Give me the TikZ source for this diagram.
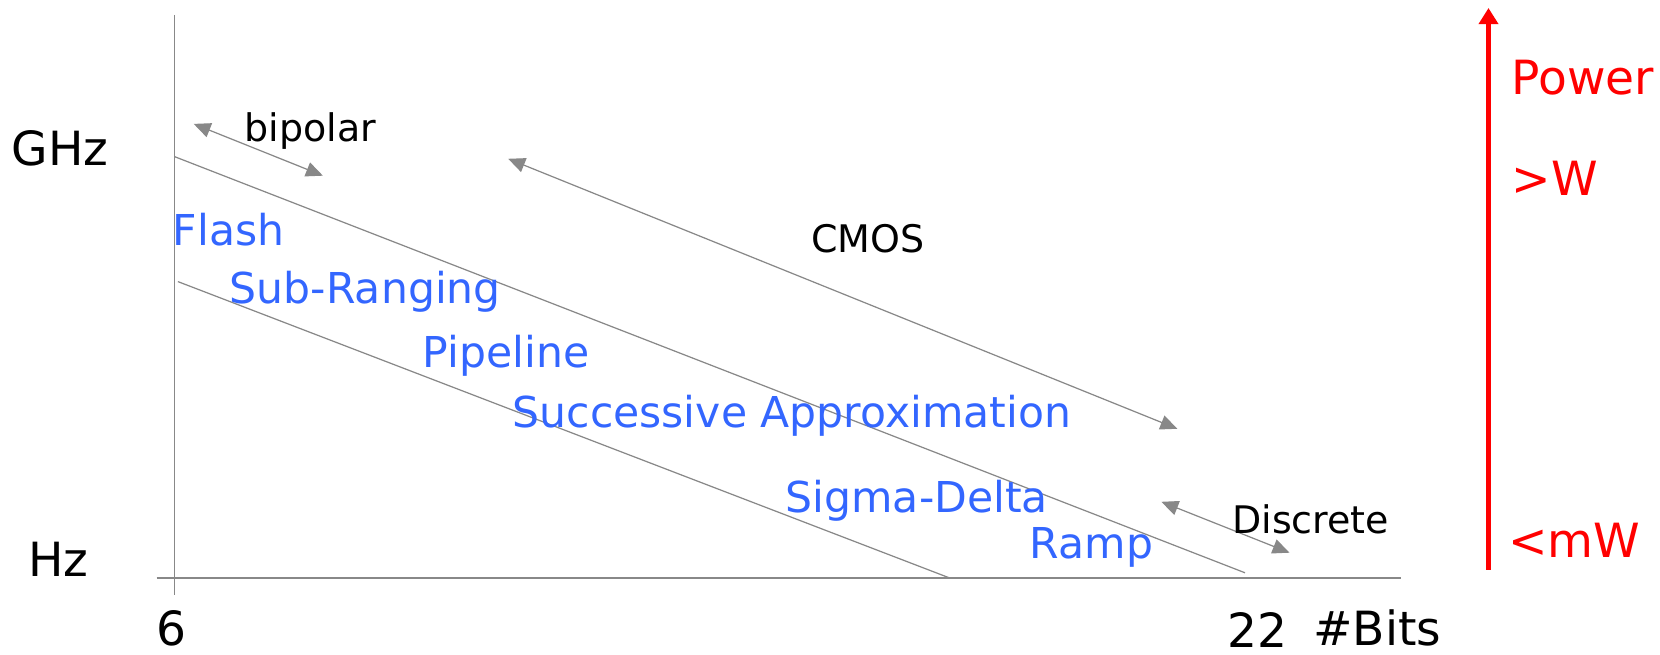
\documentclass[tikz,border=0pt]{standalone}
\usepackage{fontspec}
\setmainfont{DejaVu Sans}
\usetikzlibrary{arrows.meta}
\definecolor{adcblue}{HTML}{3366FF}
\definecolor{axisgray}{HTML}{888888}

\begin{document}
\begin{tikzpicture}[x=0.01cm, y=-0.01cm,
    axis/.style={draw=axisgray, line width=0.35pt},
    span/.style={draw=axisgray, line width=0.35pt, {Triangle[length=4.8pt,width=4.2pt]}-{Triangle[length=4.8pt,width=4.2pt]}},
    kind/.style={text=adcblue, font=\fontsize{12.1}{14}\selectfont, inner sep=0pt},
    tech/.style={font=\fontsize{10.8}{13}\selectfont, inner sep=0pt},
    big/.style={font=\fontsize{13.4}{15}\selectfont, inner sep=0pt}]
    \useasboundingbox (0,0) rectangle (1660,655);

    % Axes
    \coordinate (ytop) at (174.7,14.8);
    \coordinate (ybot) at (174.7,595);
    \coordinate (xleft) at (156.7,578);
    \coordinate (xright) at (1400.7,578);
    \draw[axis] (ytop) -- (ybot);
    \draw[axis] (xleft) -- (xright);

    % Region borders
    \coordinate (upA) at (174.7,156.7);
    \coordinate (upB) at (1245,572.8);
    \coordinate (loA) at (177.9,281.6);
    \coordinate (loB) at (949.7,578);
    \draw[axis] (upA) -- (upB);
    \draw[axis] (loA) -- (loB);

    % Technology spans
    \coordinate (bipA) at (193.7,123.9);
    \coordinate (bipB) at (322.9,175.7);
    \coordinate (cmosA) at (508.2,158.8);
    \coordinate (cmosB) at (1177.3,428.8);
    \coordinate (disA) at (1161.4,501.8);
    \coordinate (disB) at (1289.5,552.7);
    \draw[span] (bipA) -- (bipB);
    \draw[span] (cmosA) -- (cmosB);
    \draw[span] (disA) -- (disB);
    \node[tech] (bipolar) at (310.2,131) {bipolar};
    \node[tech] (cmos) at (868.1,238.5) {CMOS};
    \node[tech] (discrete) at (1310.7,519) {Discrete};

    % Axis labels
    \node[big] (ghz) at (60.3,148.2) {GHz};
    \node[big] (hz) at (58.2,559) {Hz};
    \node[big] (six) at (171.5,628) {6};
    \node[big] (tt) at (1257.7,630) {22};
    \node[big] (bits) at (1377.4,627.8) {\#Bits};

    % Converter types
    \node[kind] (flash) at (228.7,230) {Flash};
    \node[kind] (subrng) at (365.3,292) {Sub-Ranging};
    \node[kind] (pipe) at (506.1,355.5) {Pipeline};
    \node[kind] (sar) at (791.9,416) {Successive Approximation};
    \node[kind] (sigdel) at (916.8,501) {Sigma-Delta};
    \node[kind] (ramp) at (1091.5,547.5) {Ramp};

    % Power scale
    \coordinate (pwrlow) at (1488.5,569.6);
    \coordinate (pwrhigh) at (1488.5,8);
    \draw[red, line width=1.4pt, -{Triangle[length=4.6pt,width=5.4pt]}] (pwrlow) -- (pwrhigh);
    \node[big, text=red] (power) at (1582.8,77.3) {Power};
    \node[big, text=red] (watt) at (1555,177.9) {>W};
    \node[big, text=red] (mwatt) at (1574.3,540) {<mW};
\end{tikzpicture}
\end{document}
